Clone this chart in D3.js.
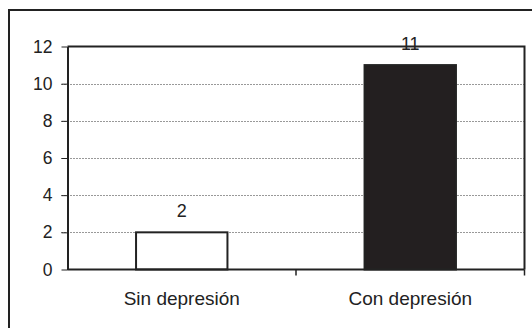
<!DOCTYPE html>
<html>
<head>
<meta charset="utf-8">
<script src="https://cdn.jsdelivr.net/npm/d3@7/dist/d3.min.js"></script>
<style>
  html, body { margin: 0; padding: 0; background: #fff; }
  svg { display: block; }
  text { font-family: "Liberation Sans", Arial, sans-serif; fill: #222; }
</style>
</head>
<body>
<svg id="chart" width="532" height="328"></svg>
<script>
// Data
const categories = ["Sin depresión", "Con depresión"];
const values = [2, 11];
const barFills = ["#ffffff", "#231f20"];
const yTicks = [0, 2, 4, 6, 8, 10, 12];

const W = 532, H = 328;
const plot = { left: 67.5, right: 524.5, top: 46.5, bottom: 269.5 };

const svg = d3.select("#chart");
svg.append("rect").attr("width", W).attr("height", H).attr("fill", "#fff");

// Outer frame (extends past the right and bottom edges)
svg.append("path")
  .attr("d", `M9,${H + 5} L9,10 L${W + 5},10`)
  .attr("fill", "none").attr("stroke", "#222").attr("stroke-width", 2);

const x = d3.scaleBand().domain(categories).range([plot.left, plot.right]).padding(0);
const y = d3.scaleLinear().domain([0, 12]).range([plot.bottom, plot.top]);

// Dotted gridlines
svg.append("g").selectAll("line")
  .data(yTicks.filter(t => t > 0 && t < 12))
  .join("line")
  .attr("x1", plot.left - 6).attr("x2", plot.right)
  .attr("y1", d => Math.round(y(d)) + 0.5).attr("y2", d => Math.round(y(d)) + 0.5)
  .attr("stroke", "#333").attr("stroke-width", 1).attr("stroke-dasharray", "1,2");

// Plot frame: top and right sides
svg.append("path")
  .attr("d", `M${plot.left},${plot.top} L${plot.right},${plot.top} L${plot.right},${plot.bottom}`)
  .attr("fill", "none").attr("stroke", "#222").attr("stroke-width", 2);

// Bars
const barW = x.bandwidth() * 0.4;
svg.append("g").selectAll("rect")
  .data(values)
  .join("rect")
  .attr("x", (d, i) => x(categories[i]) + (x.bandwidth() - barW) / 2)
  .attr("y", d => y(d))
  .attr("width", barW)
  .attr("height", d => y(0) - y(d))
  .attr("fill", (d, i) => barFills[i])
  .attr("stroke", "#222").attr("stroke-width", 2);

// Value labels
svg.append("g").selectAll("text")
  .data(values)
  .join("text")
  .attr("x", (d, i) => x(categories[i]) + x.bandwidth() / 2)
  .attr("y", d => y(d) - 15)
  .attr("text-anchor", "middle")
  .attr("font-size", 18)
  .text(d => d);

// Y axis
const yAxis = d3.axisLeft(y).tickValues(yTicks).tickSize(6).tickPadding(9).tickSizeOuter(0);
const gy = svg.append("g").attr("transform", `translate(${plot.left},0)`).call(yAxis);
gy.select(".domain").attr("stroke", "#222").attr("stroke-width", 2);
gy.selectAll(".tick line").attr("stroke", "#222");
gy.selectAll(".tick text").attr("font-size", 17.5).attr("font-family", "Liberation Sans, Arial, sans-serif").attr("fill", "#222");

// X axis baseline with ticks at category boundaries
svg.append("line")
  .attr("x1", plot.left).attr("x2", plot.right)
  .attr("y1", plot.bottom).attr("y2", plot.bottom)
  .attr("stroke", "#222").attr("stroke-width", 2);
svg.append("g").selectAll("line")
  .data(categories)
  .join("line")
  .attr("x1", d => x(d) + x.bandwidth()).attr("x2", d => x(d) + x.bandwidth())
  .attr("y1", plot.bottom).attr("y2", plot.bottom + 6)
  .attr("stroke", "#222").attr("stroke-width", 1.5);

// Category labels
svg.append("g").selectAll("text")
  .data(categories)
  .join("text")
  .attr("x", d => x(d) + x.bandwidth() / 2)
  .attr("y", 305)
  .attr("text-anchor", "middle")
  .attr("font-size", 19)
  .text(d => d);
</script>
</body>
</html>
